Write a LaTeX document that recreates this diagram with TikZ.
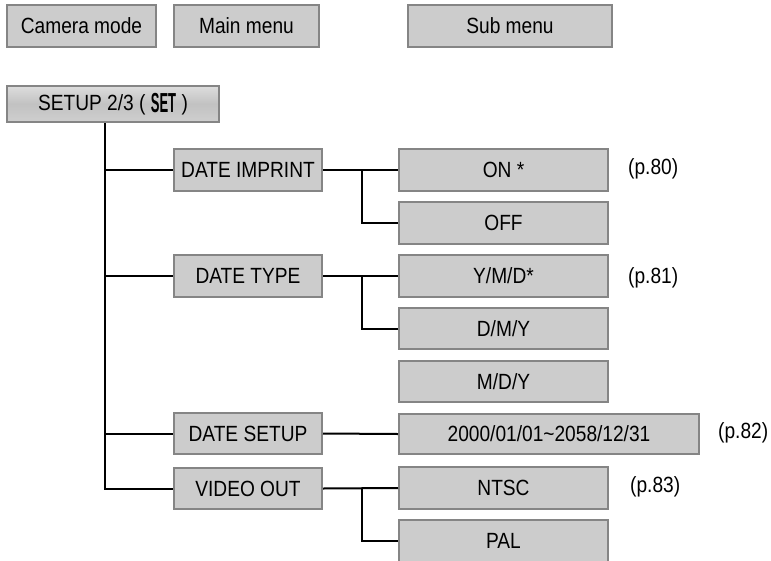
\documentclass[tikz,border=0pt]{standalone}
\usepackage{fontspec}
\usepackage{graphicx}
\setmainfont{Liberation Sans}[FakeStretch=0.87]
\definecolor{boxfill}{HTML}{CCCCCC}
\definecolor{boxline}{HTML}{858585}
\pgfdeclareverticalshading{setupshade}{100bp}{color(0bp)=(white!88!black); color(20bp)=(white!82!black); color(50bp)=(white!76!black); color(100bp)=(white!97!black)}
\begin{document}
\begin{tikzpicture}[x=1pt,y=-1pt,
  box/.style={draw=boxline, line width=2pt, fill=boxfill, inner sep=0pt,
    font=\fontsize{22}{25}\selectfont, text=black},
  conn/.style={draw=black, line width=2pt},
  pref/.style={anchor=west, inner sep=0pt, font=\fontsize{22}{25}\selectfont}]
\useasboundingbox (0,0) rectangle (771,560);
% legend
\node[box, minimum width=149pt, minimum height=42pt] (cam) at (81.5,26) {Camera mode};
\node[box, minimum width=145pt, minimum height=42pt] (main) at (246.5,26) {Main menu};
\node[box, minimum width=204pt, minimum height=42pt] (sub) at (510,26) {Sub menu};
% setup
\node[box, shading=setupshade, minimum width=212pt, minimum height=36pt] (setup) at (113,104)
  {SETUP 2/3 ( \raisebox{-1.5pt}{\scalebox{0.68}[1.25]{\bfseries SET}} )};
% level 2
\node[box, minimum width=148pt, minimum height=42pt] (di) at (248,170) {DATE IMPRINT};
\node[box, minimum width=148pt, minimum height=42pt] (dt) at (248,276) {DATE TYPE};
\node[box, minimum width=148pt, minimum height=41pt] (ds) at (248,433.5) {DATE SETUP};
\node[box, minimum width=148pt, minimum height=41pt] (vo) at (248,488.5) {VIDEO OUT};
% level 3
\node[box, minimum width=209pt, minimum height=42pt] (on) at (503.5,170) {ON *};
\node[box, minimum width=209pt, minimum height=42pt] (off) at (503.5,223) {OFF};
\node[box, minimum width=209pt, minimum height=42pt] (ymd) at (503.5,276) {Y/M/D*};
\node[box, minimum width=209pt, minimum height=41pt] (dmy) at (503.5,328.5) {D/M/Y};
\node[box, minimum width=209pt, minimum height=41pt] (mdy) at (503.5,381.5) {M/D/Y};
\node[box, minimum width=300pt, minimum height=40pt] (rng) at (549,434) {2000/01/01\textasciitilde 2058/12/31};
\node[box, minimum width=209pt, minimum height=42pt] (ntsc) at (503.5,488) {NTSC};
\node[box, minimum width=209pt, minimum height=42pt] (pal) at (503.5,541) {PAL};
% page refs
\node[pref] (p80) at (628,169) {(p.80)};
\node[pref] (p81) at (628,278) {(p.81)};
\node[pref] (p82) at (718,433) {(p.82)};
\node[pref] (p83) at (630,487) {(p.83)};
% connectors
\coordinate (t0) at (105,123);
\coordinate (bx) at (362,0);
\draw[conn] (t0) |- (vo.west);
\draw[conn] (t0 |- di.west) -- (di.west);
\draw[conn] (t0 |- dt.west) -- (dt.west);
\draw[conn] (t0 |- ds.west) -- (ds.west);
\draw[conn] (di.east) -- (on.west);
\draw[conn] (bx |- di.east) |- (off.west);
\draw[conn] (dt.east) -- (ymd.west);
\draw[conn] (bx |- dt.east) |- (dmy.west);
\draw[conn] (ds.east) -- (rng.west);
\draw[conn] (vo.east) -- (ntsc.west);
\draw[conn] (bx |- vo.east) |- (pal.west);
\end{tikzpicture}
\end{document}
